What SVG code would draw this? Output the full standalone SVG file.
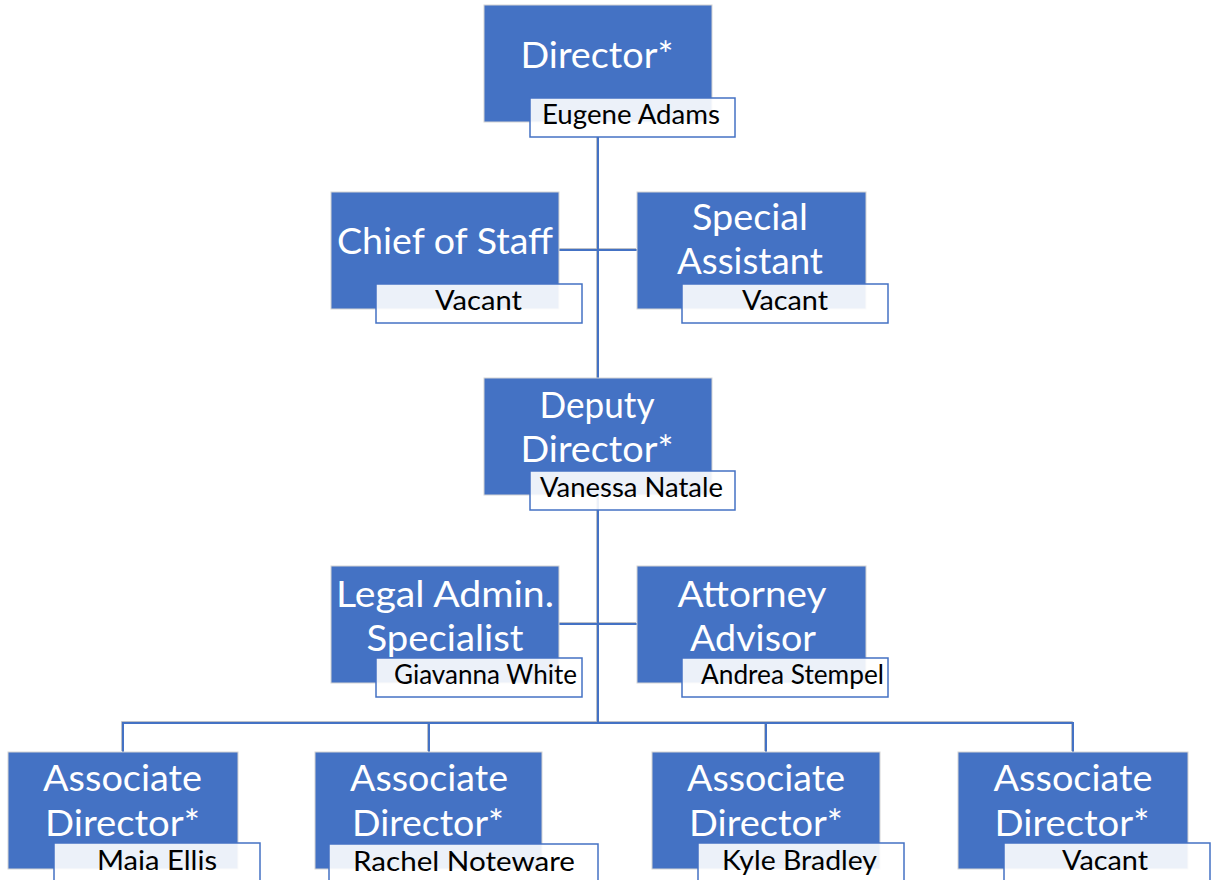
<svg xmlns="http://www.w3.org/2000/svg" width="1215" height="880" viewBox="0 0 1215 880">
  <style>
    .box { fill: #4472C4; stroke: #d4d4d4; stroke-width: 1; }
    .tag { fill: #ffffff; fill-opacity: 0.9; stroke: #4472C4; stroke-width: 1.5; }
    .title { font-family: Lato, "Open Sans", sans-serif; font-size: 36px; fill: #ffffff; text-anchor: middle; }
    .name { font-family: Lato, "Open Sans", sans-serif; font-size: 26px; fill: #000000; text-anchor: middle; }
    .link { stroke: #4472C4; stroke-width: 2; fill: none; }
    .shade { stroke: #a9adb5; stroke-width: 1.5; fill: none; }
  </style>
  <defs>
    <g id="links-path">
      <path d="M598,137 V723"/>
      <path d="M559,250 H637"/>
      <path d="M559,624 H637"/>
      <path d="M123,752 V723 H1073 V752"/>
      <path d="M429,723 V752"/>
      <path d="M766,723 V752"/>
    </g>
  </defs>

  <rect width="1215" height="880" fill="#ffffff"/>

  <!-- reporting lines -->
  <g id="connectors">
    <use href="#links-path" class="shade" transform="translate(-1,-1)"/>
    <use href="#links-path" class="link"/>
  </g>

  <g id="director">
    <rect class="box" x="484" y="5" width="228" height="117"/>
    <text class="title" x="597" y="68" textLength="153" lengthAdjust="spacingAndGlyphs">Director*</text>
    <rect class="tag" x="530" y="98" width="205" height="39"/>
    <text class="name" x="631" y="124" textLength="178" lengthAdjust="spacingAndGlyphs">Eugene Adams</text>
  </g>

  <g id="chief-of-staff">
    <rect class="box" x="331" y="192" width="228" height="117"/>
    <text class="title" x="445" y="254" textLength="216" lengthAdjust="spacingAndGlyphs">Chief of Staff</text>
    <rect class="tag" x="376" y="284" width="206" height="39"/>
    <text class="name" x="478.5" y="310" textLength="87" lengthAdjust="spacingAndGlyphs">Vacant</text>
  </g>

  <g id="special-assistant">
    <rect class="box" x="637" y="192" width="229" height="117"/>
    <text class="title" x="750" y="230" textLength="116" lengthAdjust="spacingAndGlyphs">Special</text>
    <text class="title" x="750" y="274" textLength="146" lengthAdjust="spacingAndGlyphs">Assistant</text>
    <rect class="tag" x="682" y="284" width="206" height="39"/>
    <text class="name" x="785" y="310" textLength="86" lengthAdjust="spacingAndGlyphs">Vacant</text>
  </g>

  <g id="deputy-director">
    <rect class="box" x="484" y="378" width="228" height="117"/>
    <text class="title" x="597" y="418" textLength="115" lengthAdjust="spacingAndGlyphs">Deputy</text>
    <text class="title" x="597" y="462" textLength="153" lengthAdjust="spacingAndGlyphs">Director*</text>
    <rect class="tag" x="530" y="471" width="205" height="39"/>
    <text class="name" x="631.5" y="497" textLength="183" lengthAdjust="spacingAndGlyphs">Vanessa Natale</text>
  </g>

  <g id="legal-admin-specialist">
    <rect class="box" x="331" y="566" width="228" height="117"/>
    <text class="title" x="445" y="607" textLength="218" lengthAdjust="spacingAndGlyphs">Legal Admin.</text>
    <text class="title" x="445" y="651" textLength="157" lengthAdjust="spacingAndGlyphs">Specialist</text>
    <rect class="tag" x="376" y="658" width="206" height="39"/>
    <text class="name" x="485.5" y="684" textLength="183" lengthAdjust="spacingAndGlyphs">Giavanna White</text>
  </g>

  <g id="attorney-advisor">
    <rect class="box" x="637" y="566" width="229" height="117"/>
    <text class="title" x="752" y="607" textLength="149" lengthAdjust="spacingAndGlyphs">Attorney</text>
    <text class="title" x="753" y="651" textLength="126" lengthAdjust="spacingAndGlyphs">Advisor</text>
    <rect class="tag" x="682" y="658" width="206" height="39"/>
    <text class="name" x="792.5" y="684" textLength="183" lengthAdjust="spacingAndGlyphs">Andrea Stempel</text>
  </g>

  <g id="associate-director-1">
    <rect class="box" x="8" y="752" width="230" height="117"/>
    <text class="title" x="122.5" y="791" textLength="159" lengthAdjust="spacingAndGlyphs">Associate</text>
    <text class="title" x="122.5" y="836" textLength="155" lengthAdjust="spacingAndGlyphs">Director*</text>
    <rect class="tag" x="54" y="843" width="206" height="39"/>
    <text class="name" x="157" y="870" textLength="120" lengthAdjust="spacingAndGlyphs">Maia Ellis</text>
  </g>

  <g id="associate-director-2">
    <rect class="box" x="315" y="752" width="227" height="117"/>
    <text class="title" x="429" y="791" textLength="158" lengthAdjust="spacingAndGlyphs">Associate</text>
    <text class="title" x="428" y="836" textLength="152" lengthAdjust="spacingAndGlyphs">Director*</text>
    <rect class="tag" x="329" y="844" width="269" height="39"/>
    <text class="name" x="464" y="871" textLength="222" lengthAdjust="spacingAndGlyphs">Rachel Noteware</text>
  </g>

  <g id="associate-director-3">
    <rect class="box" x="652" y="752" width="228" height="117"/>
    <text class="title" x="766" y="791" textLength="158" lengthAdjust="spacingAndGlyphs">Associate</text>
    <text class="title" x="766" y="836" textLength="154" lengthAdjust="spacingAndGlyphs">Director*</text>
    <rect class="tag" x="698" y="843" width="206" height="39"/>
    <text class="name" x="799.5" y="870" textLength="155" lengthAdjust="spacingAndGlyphs">Kyle Bradley</text>
  </g>

  <g id="associate-director-4">
    <rect class="box" x="958" y="752" width="230" height="117"/>
    <text class="title" x="1073" y="791" textLength="159" lengthAdjust="spacingAndGlyphs">Associate</text>
    <text class="title" x="1072" y="836" textLength="155" lengthAdjust="spacingAndGlyphs">Director*</text>
    <rect class="tag" x="1004" y="843" width="206" height="39"/>
    <text class="name" x="1105" y="870" textLength="86" lengthAdjust="spacingAndGlyphs">Vacant</text>
  </g>
</svg>
